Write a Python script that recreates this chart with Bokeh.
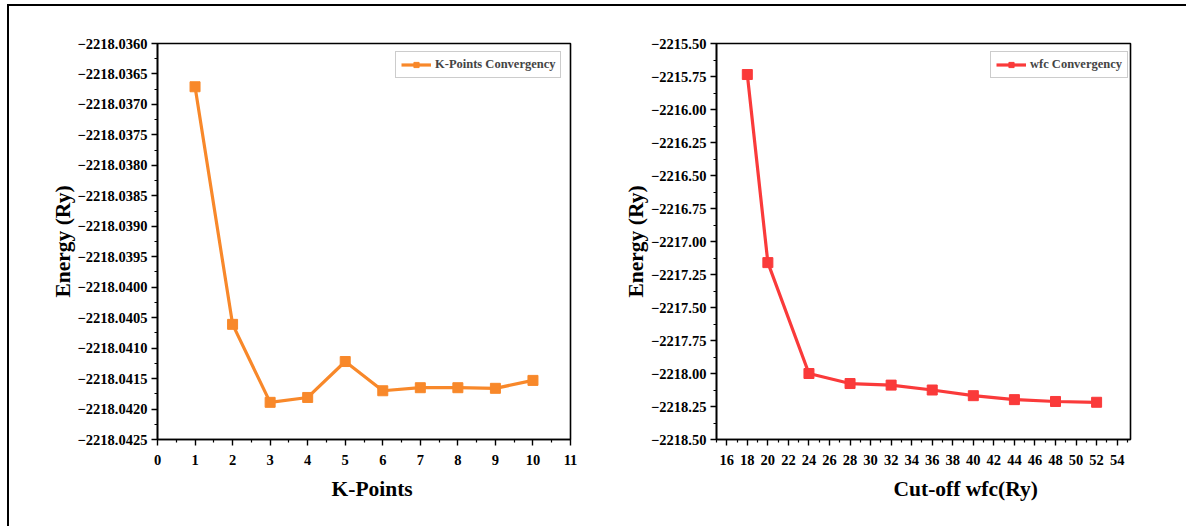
from bokeh.plotting import figure
from bokeh.layouts import row
from bokeh.models import FixedTicker, CustomJSTickFormatter, Legend, LegendItem, Range1d, Title
from bokeh.embed import file_html
from bokeh.resources import INLINE

# K-points convergence
kpoints = [1, 2, 3, 4, 5, 6, 7, 8, 9, 10]
k_energy = [-2218.03671, -2218.04061, -2218.04189, -2218.04181, -2218.04122,
            -2218.04170, -2218.04165, -2218.04165, -2218.04166, -2218.04153]

# wfc cut-off convergence
cutoff = [18, 20, 24, 28, 32, 36, 40, 44, 48, 52]
wfc_energy = [-2215.735, -2217.16, -2218.00, -2218.076, -2218.088,
              -2218.125, -2218.168, -2218.198, -2218.212, -2218.218]

k_xticks = list(range(0, 12))
k_yticks = [-2218.0360 - 0.0005 * i for i in range(14)]
w_xticks = list(range(16, 56, 2))
w_yticks = [-2215.50 - 0.25 * i for i in range(13)]

FONT = "Liberation Serif"
ORANGE = "#F8882A"
RED = "#FA3A3A"


def style(p, ylabel, decimals):
    for ax in (p.xaxis[0], p.yaxis[0]):
        ax.axis_line_width = 1.6
        ax.major_tick_line_width = 1.4
        ax.minor_tick_line_width = 1.2
        ax.major_tick_in = 0
        ax.major_tick_out = 6
        ax.minor_tick_in = 0
        ax.minor_tick_out = 3
        ax.major_label_text_font = FONT
        ax.major_label_text_font_style = "bold"
        ax.major_label_text_font_size = "14.5px"
        ax.major_label_text_color = "black"
        ax.axis_label_text_font = FONT
        ax.axis_label_text_font_style = "bold"
        ax.axis_label_text_font_size = "21.5px"
        ax.axis_label_text_color = "black"
    p.yaxis.axis_label = ylabel
    p.xaxis.major_label_standoff = 9
    p.yaxis.major_label_standoff = 4
    p.yaxis.axis_label_standoff = 0
    p.yaxis.formatter = CustomJSTickFormatter(
        code="return '\\u2212' + Math.abs(tick).toFixed(%d);" % decimals)
    p.grid.visible = False
    p.outline_line_color = "black"
    p.outline_line_width = 1.6
    p.background_fill_color = "white"
    p.border_fill_color = "white"


def xtitle(p, text, offset):
    p.add_layout(Title(text=text, align="left", offset=offset, standoff=14,
                       text_font=FONT, text_font_style="bold",
                       text_font_size="21.5px", text_color="black"), "below")


p1 = figure(width=583, height=520, output_backend="svg", toolbar_location=None,
            x_range=Range1d(0, 11), y_range=Range1d(-2218.0425, -2218.0360),
            min_border_left=148, min_border_right=22, min_border_top=37, min_border_bottom=87)
style(p1, "Energy (Ry)", 4)
p1.xaxis.ticker = FixedTicker(ticks=k_xticks, minor_ticks=[x + 0.5 for x in k_xticks[:-1]])
p1.yaxis.ticker = FixedTicker(ticks=k_yticks, minor_ticks=[y - 0.00025 for y in k_yticks[:-1]])
l1 = p1.line(kpoints, k_energy, line_color=ORANGE, line_width=3.2)
m1 = p1.scatter(kpoints, k_energy, marker="square", size=10, fill_color=ORANGE, line_color=ORANGE)
xtitle(p1, "K-Points", 174)

p2 = figure(width=594, height=520, output_backend="svg", toolbar_location=None,
            x_range=Range1d(15, 55.3), y_range=Range1d(-2218.50, -2215.50),
            min_border_left=124, min_border_right=56, min_border_top=37, min_border_bottom=87)
style(p2, "Energy (Ry)", 2)
p2.xaxis.ticker = FixedTicker(ticks=w_xticks, minor_ticks=list(range(15, 56, 2)))
p2.yaxis.ticker = FixedTicker(ticks=w_yticks, minor_ticks=[y - 0.125 for y in w_yticks[:-1]])
l2 = p2.line(cutoff, wfc_energy, line_color=RED, line_width=3.2)
m2 = p2.scatter(cutoff, wfc_energy, marker="square", size=10, fill_color=RED, line_color=RED)
xtitle(p2, "Cut-off wfc(Ry)", 177)


def add_legend(p, items, loc):
    lg = Legend(items=items, location=loc, margin=0, padding=5,
                label_text_font=FONT, label_text_font_style="bold",
                label_text_font_size="12.5px", label_standoff=4,
                glyph_width=30, glyph_height=13, label_height=13,
                border_line_color="#999999", border_line_width=1,
                background_fill_alpha=1)
    p.add_layout(lg, "center")


add_legend(p1, [LegendItem(label="K-Points Convergency", renderers=[l1, m1])], (238, 361))
add_legend(p2, [LegendItem(label="wfc Convergency", renderers=[l2, m2])], (274, 361))

layout = row(p1, p2, styles={"margin-left": "7px", "margin-top": "4px",
                             "border-top": "2px solid black",
                             "border-left": "2px solid black"})

open("out.html", "w").write(file_html(layout, INLINE))
